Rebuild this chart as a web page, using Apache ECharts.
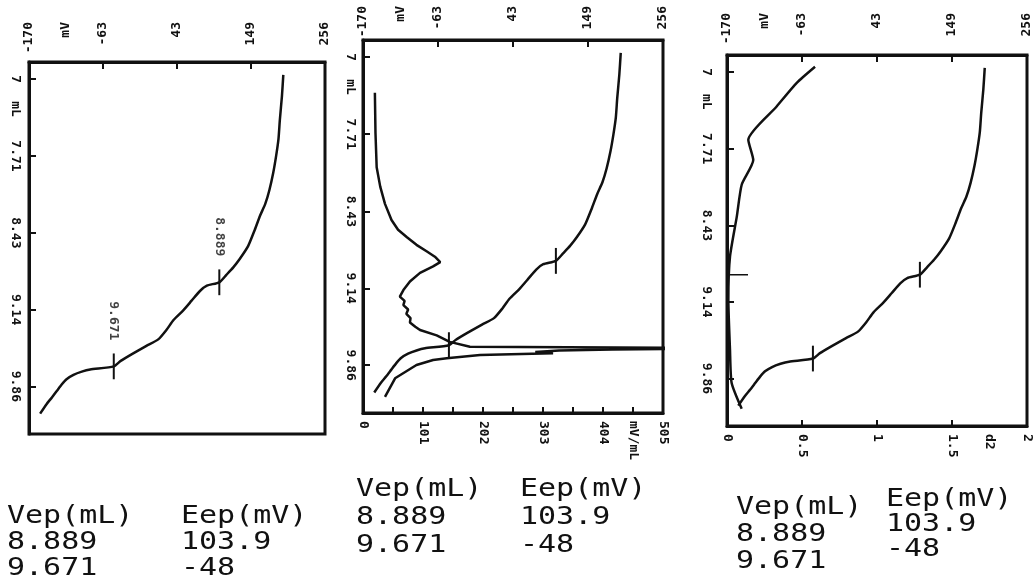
<!DOCTYPE html>
<html>
<head>
<meta charset="utf-8">
<title>Titration - endpoints</title>
<script src="https://cdn.jsdelivr.net/npm/echarts@6/dist/echarts.min.js"></script>
<style>
  html, body { margin: 0; padding: 0; background: #fff; }
  #chart { width: 1035px; height: 580px; }
</style>
</head>
<body>
<div id="chart"></div>
<script>
// titration curve E = f(V), same run in all three panels
const volE = [6.96, 7.16, 7.38, 7.56, 7.72, 7.87, 8.03, 8.16, 8.27, 8.40, 8.55, 8.67, 8.75, 8.82, 8.889,
  8.92, 8.97, 9.06, 9.15, 9.24, 9.33, 9.42, 9.48, 9.55, 9.62, 9.671, 9.70, 9.72, 9.75, 9.79, 9.84,
  9.90, 9.96, 10.02, 10.11];
const potE = [196, 194, 191, 189, 185.5, 181.5, 176, 170, 162.5, 155, 145.5, 133.5, 124, 114, 103.9,
  86, 76, 64, 52, 38, 28, 16, -1, -20, -38, -48, -82, -94, -106, -116, -123,
  -130, -137, -144.5, -154];

// first derivative (middle panel, bottom axis)
const volD1 = [7.33, 7.70, 8.02, 8.20, 8.36, 8.51, 8.60, 8.67, 8.74, 8.80, 8.85, 8.90, 8.94, 9.00,
  9.08, 9.16, 9.22, 9.26, 9.30, 9.34, 9.38, 9.42, 9.46, 9.50, 9.53, 9.58, 9.64, 9.685, 9.70,
  9.71, 9.72, 9.735, 9.746, 9.762, 9.793, 9.808, 9.855, 9.978, 10.15];
const valD1 = [20, 21, 23, 29, 37, 48, 59, 74, 90, 107, 121, 130, 118, 96,
  79, 68, 62, 70, 68, 76, 73, 80, 79, 88, 96, 124, 146, 180, 640,
  420, 330, 290, 320, 197, 141, 118, 90, 54, 37];

// second derivative (right panel, bottom axis)
const volD2 = [6.95, 7.10, 7.32, 7.63, 7.82, 8.05, 8.35, 8.72, 9.12, 9.59, 9.90, 10.14];
const valD2 = [0.587, 0.465, 0.331, 0.142, 0.175, 0.098, 0.065, 0.02, 0.009, 0.02, 0.031, 0.098];

// endpoints
const Vep = [8.889, 9.671];
const Eep = [103.9, -48];
const epHeader = ['Vep(mL)', 'Eep(mV)'];

// axes
const mvTicks = [-170, -63.5, 43, 149.5, 256];
const mvLabels = ['-170', '-63', '43', '149', '256'];
const mvUnit = 'mV';
const volTicks = [7, 7.714, 8.429, 9.143, 9.857];
const volLabels = ['7', '7.71', '8.43', '9.14', '9.86'];
const volUnit = 'mL';
const d1Ticks = [0, 50.5, 101, 151.5, 202, 252.5, 303, 353.5, 404, 454.5, 505];
const d1LabelTicks = [0, 101, 202, 303, 404, 505];
const d1Labels = ['0', '101', '202', '303', '404', '505'];
const d1Unit = 'mV/mL';
const d2Ticks = [0, 0.5, 1, 1.5, 2];
const d2Labels = ['0', '0.5', '1', '1.5', '2'];
const d2Unit = 'd2';

const ink = '#111';
const mono = '"DejaVu Sans Mono", monospace';

// panel frames (scan is a little skewed, so each has its own box)
const panels = [
  { left: 29, top: 62, width: 296, height: 372, topLabelY: 22, leftGap: 7 },
  { left: 363, top: 40, width: 300, height: 373, topLabelY: 6, leftGap: 6 },
  { left: 727, top: 55, width: 300, height: 371, topLabelY: 13, leftGap: 14 }
];
// endpoint table under each panel: [x, y] of column 1 and column 2, row step
const tables = [
  { c1: [7, 517], c2: [181, 517], dy1: 26, dy2: 26 },
  { c1: [356, 490], c2: [520, 490], dy1: 28, dy2: 28 },
  { c1: [736, 508], c2: [886, 500], dy1: 27, dy2: 25 }
];
const markerHalf = 0.12;

function labelMap(values, texts, unitPos, unit) {
  const m = new Map();
  values.forEach((v, i) => m.set(v, texts[i]));
  m.set(unitPos, unit);
  return m;
}

const labelFont = { fontFamily: mono, fontSize: 13, fontWeight: 'bold', color: ink };
const tickStyle = { color: ink, width: 2 };
const frameLine = { show: true, onZero: false, lineStyle: { color: ink, width: 3 } };

function mvAxis(i) {
  const p = panels[i];
  const unitPos = (mvTicks[0] + mvTicks[1]) / 2;
  const m = labelMap(mvTicks, mvLabels, unitPos, mvUnit);
  return {
    type: 'value', gridIndex: i, position: 'top', min: -170, max: 256,
    axisLine: frameLine, splitLine: { show: false },
    axisTick: { show: true, inside: true, length: 7, customValues: mvTicks, lineStyle: tickStyle },
    axisLabel: Object.assign({
      customValues: mvTicks.concat([unitPos]),
      formatter: v => m.get(v) || '',
      rotate: -90, align: 'right', verticalAlign: 'middle',
      margin: p.top - p.topLabelY, showMinLabel: true, showMaxLabel: true, hideOverlap: false
    }, labelFont)
  };
}

function volAxis(i) {
  const p = panels[i];
  const unitPos = (volTicks[0] + volTicks[1]) / 2 - 0.08;
  const m = labelMap(volTicks, volLabels, unitPos, volUnit);
  return {
    type: 'value', gridIndex: i, position: 'left', inverse: true, min: 6.84, max: 10.3,
    axisLine: frameLine, splitLine: { show: false },
    axisTick: { show: true, inside: true, length: 7, customValues: volTicks, lineStyle: tickStyle },
    axisLabel: Object.assign({
      customValues: volTicks.concat([unitPos]),
      formatter: v => m.get(v) || '',
      rotate: -90, align: 'center', verticalAlign: 'top',
      margin: p.leftGap, showMinLabel: true, showMaxLabel: true, hideOverlap: false
    }, labelFont)
  };
}

function derivAxis(i, ticks, labelTicks, labels, unit, max) {
  const n = labelTicks.length;
  const unitPos = (labelTicks[n - 2] + labelTicks[n - 1]) / 2;
  const m = labelMap(labelTicks, labels, unitPos, unit);
  return {
    type: 'value', gridIndex: i, position: 'bottom', min: 0, max: max,
    axisLine: frameLine, splitLine: { show: false },
    axisTick: { show: true, inside: true, length: 6, customValues: ticks, lineStyle: tickStyle },
    axisLabel: Object.assign({
      customValues: labelTicks.concat([unitPos]),
      formatter: v => m.get(v) || '',
      rotate: -90, align: 'left', verticalAlign: 'middle',
      margin: 8, showMinLabel: true, showMaxLabel: true, hideOverlap: false
    }, labelFont)
  };
}

const xAxes = [mvAxis(0), mvAxis(1), derivAxis(1, d1Ticks, d1LabelTicks, d1Labels, d1Unit, 505),
  mvAxis(2), derivAxis(2, d2Ticks, d2Ticks, d2Labels, d2Unit, 2)];
const mvIndex = [0, 1, 3];
const yAxes = [volAxis(0), volAxis(1), volAxis(2)];

const curveStyle = { color: ink, width: 2.5 };
const series = [];
panels.forEach((p, i) => {
  series.push({
    type: 'line', xAxisIndex: mvIndex[i], yAxisIndex: i, showSymbol: false, smooth: 0.2,
    lineStyle: curveStyle, itemStyle: { color: ink }, silent: true,
    data: volE.map((v, k) => [potE[k], v])
  });
  Vep.forEach((v, k) => {
    series.push({
      type: 'line', xAxisIndex: mvIndex[i], yAxisIndex: i, showSymbol: false,
      lineStyle: { color: ink, width: 2 }, silent: true,
      data: [[Eep[k], v - markerHalf], [Eep[k], v + markerHalf]]
    });
  });
});
// endpoint volumes printed next to the marks in the first panel
series.push({
  type: 'scatter', xAxisIndex: 0, yAxisIndex: 0, symbolSize: 0, silent: true,
  data: Vep.map((v, k) => [Eep[k], v]),
  label: Object.assign({
    show: true, position: 'top', distance: 26, rotate: -90,
    align: 'right', verticalAlign: 'middle',
    formatter: prm => String(prm.value[1])
  }, labelFont)
});
series.push({
  type: 'line', xAxisIndex: 2, yAxisIndex: 1, showSymbol: false, silent: true,
  lineStyle: curveStyle, data: volD1.map((v, k) => [valD1[k], v])
});
series.push({
  type: 'line', xAxisIndex: 4, yAxisIndex: 2, showSymbol: false, silent: true, smooth: 0.2,
  lineStyle: curveStyle, data: volD2.map((v, k) => [valD2[k], v])
});
// short mark on the second-derivative trace at the first endpoint
series.push({
  type: 'line', xAxisIndex: 4, yAxisIndex: 2, showSymbol: false, silent: true,
  lineStyle: { color: ink, width: 1.5 }, data: [[0.02, Vep[0]], [0.14, Vep[0]]]
});

// endpoint tables
const graphic = [];
const tableFont = '24px ' + mono;
function txt(x, y, s) {
  graphic.push({
    type: 'text', x: x, y: y, scaleX: 1.25, silent: true,
    style: { text: s, font: tableFont, fill: ink, textVerticalAlign: 'middle', verticalAlign: 'middle' }
  });
}
tables.forEach(t => {
  txt(t.c1[0], t.c1[1], epHeader[0]);
  txt(t.c2[0], t.c2[1], epHeader[1]);
  Vep.forEach((v, k) => {
    txt(t.c1[0], t.c1[1] + t.dy1 * (k + 1), String(v));
    txt(t.c2[0], t.c2[1] + t.dy2 * (k + 1), String(Eep[k]));
  });
});

const chart = echarts.init(document.getElementById('chart'));
chart.setOption({
  animation: false,
  backgroundColor: '#fff',
  grid: panels.map(p => ({
    left: p.left, top: p.top, width: p.width, height: p.height,
    show: true, borderColor: ink, borderWidth: 3, backgroundColor: 'transparent',
    outerBoundsMode: 'none', containLabel: false
  })),
  xAxis: xAxes,
  yAxis: yAxes,
  series: series,
  graphic: graphic
});
</script>
</body>
</html>
